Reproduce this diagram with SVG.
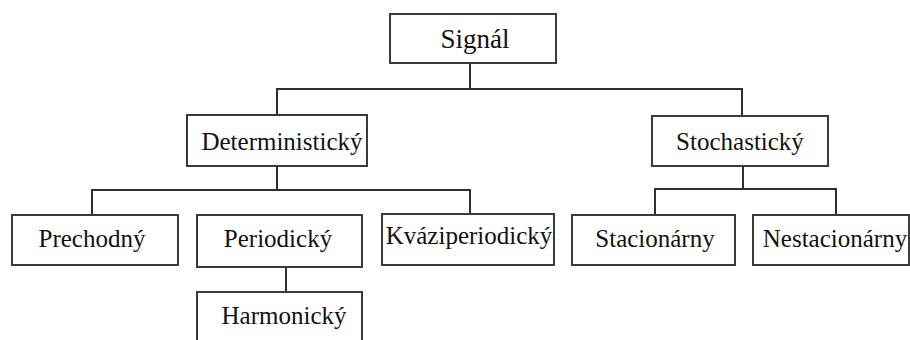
<svg xmlns="http://www.w3.org/2000/svg" width="910" height="340" viewBox="0 0 910 340">
  <style>
    .box { fill: #ffffff; stroke: #3a3a3a; stroke-width: 2; }
    .link { fill: none; stroke: #2e2e2e; stroke-width: 2; }
    text { font-family: 'Liberation Serif', 'DejaVu Serif', serif; font-size: 25px; fill: #111111; text-anchor: middle; }
  </style>
  <rect width="910" height="340" fill="#ffffff"/>

  <!-- connectors -->
  <g id="connectors">
    <path class="link" d="M470 63 V89 M277 115 V89 H742 V116"/>
    <path class="link" d="M277 166 V190 M92 215 V190 H470 V214"/>
    <path class="link" d="M743 166 V189 M655 215 V189 H836 V215"/>
    <path class="link" d="M286 267 V292"/>
  </g>

  <g id="signal">
    <rect class="box" x="390" y="14" width="166" height="49"/>
    <text x="475" y="48" font-family="Liberation Serif" style="font-size:27px">Signál</text>
  </g>

  <g id="deterministicky">
    <rect class="box" x="187" y="115" width="180" height="51"/>
    <text x="282" y="150" font-family="Liberation Serif">Deterministický</text>
  </g>

  <g id="stochasticky">
    <rect class="box" x="652" y="116" width="176" height="50"/>
    <text x="740" y="150" font-family="Liberation Serif">Stochastický</text>
  </g>

  <g id="prechodny">
    <rect class="box" x="12" y="215" width="166" height="50"/>
    <text x="92" y="247" font-family="Liberation Serif">Prechodný</text>
  </g>

  <g id="periodicky">
    <rect class="box" x="197" y="215" width="165" height="52"/>
    <text x="278" y="247" font-family="Liberation Serif">Periodický</text>
  </g>

  <g id="kvaziperiodicky">
    <rect class="box" x="382" y="214" width="172" height="51"/>
    <text x="469" y="244" font-family="Liberation Serif">Kváziperiodický</text>
  </g>

  <g id="stacionarny">
    <rect class="box" x="572" y="215" width="163" height="50"/>
    <text x="655" y="247" font-family="Liberation Serif">Stacionárny</text>
  </g>

  <g id="nestacionarny">
    <rect class="box" x="753" y="215" width="156" height="50"/>
    <text x="835" y="247" font-family="Liberation Serif">Nestacionárny</text>
  </g>

  <g id="harmonicky">
    <rect class="box" x="197" y="292" width="165" height="60"/>
    <text x="284" y="324" font-family="Liberation Serif">Harmonický</text>
  </g>
</svg>
